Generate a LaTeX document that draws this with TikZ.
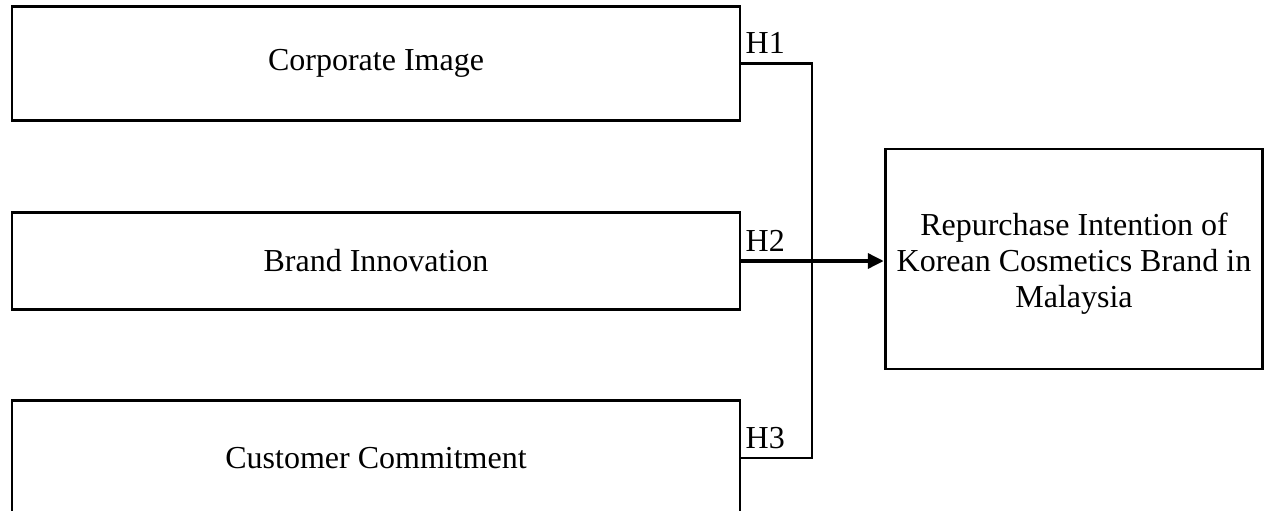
\documentclass[tikz,border=0pt]{standalone}
\usepackage{fontspec}
\setmainfont{Liberation Serif}
\usetikzlibrary{
    arrows.meta,
    positioning,
    calc
}
\tikzset{
    % --- Construct box (independent / dependent variable) ---
    construct/.style = {
        rectangle, draw, line width=2.2pt,
        minimum width=546pt, minimum height=86pt,
        font=\fontsize{24}{27}\selectfont, align=center,
        inner sep=0pt
    },
    % --- Outcome box on the right ---
    outcome/.style = {
        construct, minimum width=283pt, minimum height=165pt
    },
    % --- Hypothesis label ---
    hyp/.style = {
        font=\fontsize{24}{25}\selectfont, inner sep=1pt
    },
    % --- Connector line ---
    link/.style = {
        line width=2.2pt
    },
    % --- Main arrow ---
    main arrow/.style = {
        -{Triangle[length=12pt,width=11pt]}, line width=3pt
    }
}

\begin{document}
\begin{tikzpicture}[x=0.75pt, y=-0.75pt]

\useasboundingbox (0,0) rectangle (1266,510);
\clip (0,0) rectangle (1266,510);

% ---------------------------------------------------------
% Constructs
% ---------------------------------------------------------
\node[construct] (ci) at (376, 63.5) {Corporate Image};
\node[construct, minimum height=73pt] (bi) at (376, 261) {Brand Innovation};
\node[construct] (cc) at (376, 458) {Customer Commitment};

\node[outcome] (rep) at (1074, 259) {};
\node[align=center, font=\fontsize{24}{27}\selectfont, inner sep=0pt]
    (reptext) at (1074, 264)
    {Repurchase Intention of\\Korean Cosmetics Brand in\\Malaysia};

% ---------------------------------------------------------
% Connectors
% ---------------------------------------------------------
\coordinate (join) at (812, 261);

\draw[link] (ci.east) -- (ci.east -| join) -- (cc.east -| join) -- (cc.east);
\draw[main arrow] (bi.east) -- (bi.east -| rep.west);

% Hypothesis labels
\node[hyp, above right=6pt and 2pt of ci.east] (h1) {H1};
\node[hyp, above right=6pt and 2pt of bi.east] (h2) {H2};
\node[hyp, above right=6pt and 2pt of cc.east] (h3) {H3};

\end{tikzpicture}
\end{document}
